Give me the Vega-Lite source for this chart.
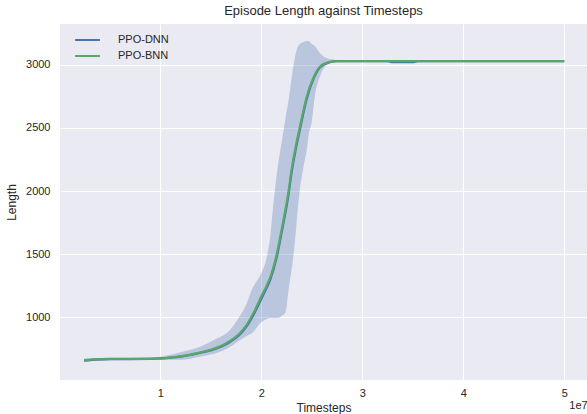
{
  "$schema": "https://vega.github.io/schema/vega-lite/v6.json",
  "width": 527,
  "height": 356,
  "autosize": "none",
  "padding": {"left": 60, "top": 24, "right": 0, "bottom": 34},
  "background": "white",
  "title": {"text": "Episode Length against Timesteps", "fontSize": 13, "font": "Liberation Sans", "fontWeight": "normal", "color": "#262626", "offset": 6},
  "config": {
    "view": {"fill": "#EAEAF2", "stroke": null},
    "axis": {"grid": true, "gridColor": "#FFFFFF", "gridWidth": 1, "gridOpacity": 1, "domain": false, "ticks": false, "labelFont": "Liberation Sans", "labelFontSize": 11, "labelColor": "#262626", "titleFont": "Liberation Sans", "titleFontSize": 12, "titleFontWeight": "normal", "titleColor": "#262626"}
  },
  "datasets": {
    "band": [
      {"t": 2450000, "lo": 648, "hi": 672},
      {"t": 5000000, "lo": 660, "hi": 680},
      {"t": 8000000, "lo": 662, "hi": 680},
      {"t": 10000000, "lo": 664, "hi": 688},
      {"t": 12000000, "lo": 664, "hi": 722},
      {"t": 14000000, "lo": 690, "hi": 768},
      {"t": 15300000, "lo": 712, "hi": 820},
      {"t": 16900000, "lo": 765, "hi": 900},
      {"t": 17800000, "lo": 815, "hi": 1000},
      {"t": 18500000, "lo": 850, "hi": 1100},
      {"t": 19050000, "lo": 873, "hi": 1216},
      {"t": 20000000, "lo": 960, "hi": 1350},
      {"t": 20500000, "lo": 985, "hi": 1460},
      {"t": 20900000, "lo": 995, "hi": 1650},
      {"t": 21200000, "lo": 995, "hi": 1900},
      {"t": 21700000, "lo": 995, "hi": 2230},
      {"t": 22000000, "lo": 1010, "hi": 2380},
      {"t": 22400000, "lo": 1040, "hi": 2580},
      {"t": 22700000, "lo": 1216, "hi": 2720},
      {"t": 23200000, "lo": 1500, "hi": 3000},
      {"t": 23500000, "lo": 1750, "hi": 3118},
      {"t": 23800000, "lo": 2000, "hi": 3165},
      {"t": 24200000, "lo": 2200, "hi": 3182},
      {"t": 24500000, "lo": 2326, "hi": 3190},
      {"t": 24700000, "lo": 2450, "hi": 3190},
      {"t": 25000000, "lo": 2550, "hi": 3165},
      {"t": 25300000, "lo": 2750, "hi": 3150},
      {"t": 25800000, "lo": 2906, "hi": 3095},
      {"t": 26500000, "lo": 3000, "hi": 3052},
      {"t": 27500000, "lo": 3022, "hi": 3038},
      {"t": 29000000, "lo": 3027, "hi": 3033},
      {"t": 32500000, "lo": 3027, "hi": 3033},
      {"t": 33000000, "lo": 3018, "hi": 3034},
      {"t": 35000000, "lo": 3018, "hi": 3034},
      {"t": 35500000, "lo": 3027, "hi": 3033},
      {"t": 50000000, "lo": 3027, "hi": 3033}
    ],
    "lines": [
      {"t": 2450000, "length": 657, "model": "PPO-DNN"},
      {"t": 3500000, "length": 665, "model": "PPO-DNN"},
      {"t": 5000000, "length": 669, "model": "PPO-DNN"},
      {"t": 7000000, "length": 669, "model": "PPO-DNN"},
      {"t": 9000000, "length": 670, "model": "PPO-DNN"},
      {"t": 10000000, "length": 674, "model": "PPO-DNN"},
      {"t": 11000000, "length": 680, "model": "PPO-DNN"},
      {"t": 12000000, "length": 688, "model": "PPO-DNN"},
      {"t": 13000000, "length": 702, "model": "PPO-DNN"},
      {"t": 14000000, "length": 719, "model": "PPO-DNN"},
      {"t": 15000000, "length": 738, "model": "PPO-DNN"},
      {"t": 16000000, "length": 766, "model": "PPO-DNN"},
      {"t": 16900000, "length": 804, "model": "PPO-DNN"},
      {"t": 17800000, "length": 858, "model": "PPO-DNN"},
      {"t": 18550000, "length": 928, "model": "PPO-DNN"},
      {"t": 19200000, "length": 1015, "model": "PPO-DNN"},
      {"t": 20000000, "length": 1145, "model": "PPO-DNN"},
      {"t": 20500000, "length": 1228, "model": "PPO-DNN"},
      {"t": 20900000, "length": 1300, "model": "PPO-DNN"},
      {"t": 21530000, "length": 1475, "model": "PPO-DNN"},
      {"t": 22000000, "length": 1665, "model": "PPO-DNN"},
      {"t": 22700000, "length": 1975, "model": "PPO-DNN"},
      {"t": 23000000, "length": 2145, "model": "PPO-DNN"},
      {"t": 23340000, "length": 2300, "model": "PPO-DNN"},
      {"t": 23800000, "length": 2478, "model": "PPO-DNN"},
      {"t": 24500000, "length": 2730, "model": "PPO-DNN"},
      {"t": 25200000, "length": 2895, "model": "PPO-DNN"},
      {"t": 25800000, "length": 2980, "model": "PPO-DNN"},
      {"t": 26700000, "length": 3020, "model": "PPO-DNN"},
      {"t": 27500000, "length": 3029, "model": "PPO-DNN"},
      {"t": 32500000, "length": 3030, "model": "PPO-DNN"},
      {"t": 33000000, "length": 3022, "model": "PPO-DNN"},
      {"t": 35000000, "length": 3022, "model": "PPO-DNN"},
      {"t": 35500000, "length": 3030, "model": "PPO-DNN"},
      {"t": 50000000, "length": 3030, "model": "PPO-DNN"},
      {"t": 2450000, "length": 660, "model": "PPO-BNN"},
      {"t": 3500000, "length": 666, "model": "PPO-BNN"},
      {"t": 5000000, "length": 670, "model": "PPO-BNN"},
      {"t": 7000000, "length": 670, "model": "PPO-BNN"},
      {"t": 9000000, "length": 671, "model": "PPO-BNN"},
      {"t": 10000000, "length": 675, "model": "PPO-BNN"},
      {"t": 11000000, "length": 681, "model": "PPO-BNN"},
      {"t": 12000000, "length": 690, "model": "PPO-BNN"},
      {"t": 13000000, "length": 704, "model": "PPO-BNN"},
      {"t": 14000000, "length": 722, "model": "PPO-BNN"},
      {"t": 15000000, "length": 742, "model": "PPO-BNN"},
      {"t": 16000000, "length": 772, "model": "PPO-BNN"},
      {"t": 16900000, "length": 812, "model": "PPO-BNN"},
      {"t": 17800000, "length": 868, "model": "PPO-BNN"},
      {"t": 18550000, "length": 940, "model": "PPO-BNN"},
      {"t": 19200000, "length": 1030, "model": "PPO-BNN"},
      {"t": 20000000, "length": 1165, "model": "PPO-BNN"},
      {"t": 20500000, "length": 1245, "model": "PPO-BNN"},
      {"t": 20900000, "length": 1320, "model": "PPO-BNN"},
      {"t": 21530000, "length": 1500, "model": "PPO-BNN"},
      {"t": 22000000, "length": 1690, "model": "PPO-BNN"},
      {"t": 22700000, "length": 2000, "model": "PPO-BNN"},
      {"t": 23000000, "length": 2170, "model": "PPO-BNN"},
      {"t": 23340000, "length": 2326, "model": "PPO-BNN"},
      {"t": 23800000, "length": 2500, "model": "PPO-BNN"},
      {"t": 24500000, "length": 2748, "model": "PPO-BNN"},
      {"t": 25200000, "length": 2906, "model": "PPO-BNN"},
      {"t": 25800000, "length": 2986, "model": "PPO-BNN"},
      {"t": 26700000, "length": 3022, "model": "PPO-BNN"},
      {"t": 27500000, "length": 3030, "model": "PPO-BNN"},
      {"t": 35000000, "length": 3030, "model": "PPO-BNN"},
      {"t": 50000000, "length": 3030, "model": "PPO-BNN"}
    ]
  },
  "layer": [
    {
      "data": {"name": "band"},
      "mark": {"type": "area", "interpolate": "monotone", "color": "#4C72B0", "opacity": 0.3},
      "encoding": {
        "x": {"field": "t", "type": "quantitative", "scale": {"domain": [70000, 52250000], "nice": false, "zero": false},
          "axis": {"title": "Timesteps", "values": [10000000, 20000000, 30000000, 40000000, 50000000], "labelPadding": 7, "labelLineHeight": 12,
            "labelExpr": "datum.value == 50000000 ? ['5', '\u200b\u00a0\u00a0\u00a0\u00a0\u00a0\u00a0\u00a0\u00a0\u00a01e7'] : format(datum.value / 10000000, 'd')",
            "titleY": 31, "titleBaseline": "alphabetic"}},
        "y": {"field": "lo", "type": "quantitative", "scale": {"domain": [503, 3324], "nice": false, "zero": false},
          "axis": {"title": "Length", "values": [1000, 1500, 2000, 2500, 3000], "format": "d", "labelPadding": 10, "titlePadding": 7}},
        "y2": {"field": "hi"}
      }
    },
    {
      "data": {"name": "lines"},
      "mark": {"type": "line", "interpolate": "monotone", "strokeWidth": 2.2},
      "encoding": {
        "x": {"field": "t", "type": "quantitative"},
        "y": {"field": "length", "type": "quantitative"},
        "color": {"field": "model", "type": "nominal",
          "scale": {"domain": ["PPO-DNN", "PPO-BNN"], "range": ["#4C72B0", "#55A868"]},
          "legend": {"title": null, "orient": "none", "legendX": 18.5, "legendY": 7, "rowPadding": 2, "symbolType": "M-1.55,0H1.55", "symbolSize": 256, "symbolStrokeWidth": 2, "symbolFillColor": "transparent", "labelFont": "Liberation Sans", "labelFontSize": 11, "labelColor": "#262626", "labelOffset": 21.5, "padding": 0}}
      }
    }
  ]
}
